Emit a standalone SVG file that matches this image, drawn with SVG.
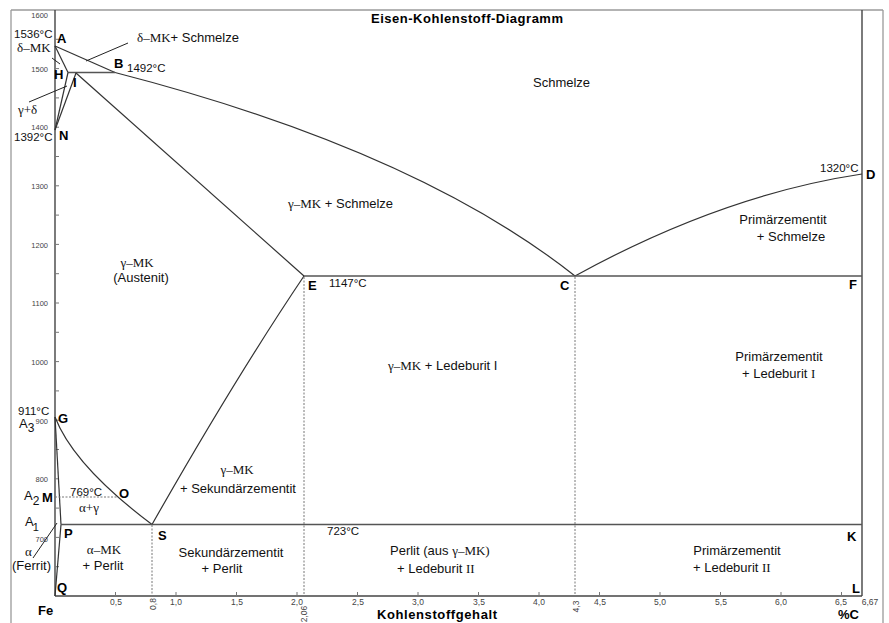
<svg xmlns="http://www.w3.org/2000/svg" width="889" height="623" viewBox="0 0 889 623">
<style>
.frame{stroke:#9a9a9a;stroke-width:1.3;fill:none}
.axis{stroke:#444;stroke-width:1.4;fill:none}
.tick{stroke:#777;stroke-width:1}
.ph{stroke:#333;stroke-width:1.2;fill:none}
.iso{stroke:#555;stroke-width:1.7;fill:none}
.dash{stroke:#777;stroke-width:1;stroke-dasharray:2 1.5;fill:none}
.ptr{stroke:#222;stroke-width:1}
.t{font-family:"Liberation Sans",Arial,sans-serif;font-size:13px;fill:#111}
.s{font-family:"Liberation Serif","Times New Roman",serif;font-size:13px;fill:#111}
.tp{font-family:"Liberation Sans",Arial,sans-serif;font-size:11.5px;fill:#111}
.b{font-family:"Liberation Sans",Arial,sans-serif;font-size:13px;font-weight:bold;fill:#000}
.yl{font-family:"Liberation Sans",Arial,sans-serif;font-size:7.5px;fill:#444;text-anchor:end}
.xl{font-family:"Liberation Sans",Arial,sans-serif;font-size:8.5px;fill:#444;text-anchor:middle}
.a{font-family:"Liberation Sans",Arial,sans-serif;font-size:13px;fill:#111}
.m{text-anchor:middle}
</style>
<rect width="889" height="623" fill="#fff"/>
<g id="frame">
<line class="frame" x1="11" y1="10" x2="883" y2="10"/>
<line class="frame" x1="11" y1="10" x2="11" y2="623"/>
<line class="frame" x1="883" y1="10" x2="883" y2="623"/>
<line class="axis" x1="55" y1="10" x2="55" y2="596"/>
<line class="axis" x1="55" y1="596" x2="862" y2="596"/>
<line class="axis" x1="862" y1="10" x2="862" y2="596"/>
</g>
<g id="ticks">
<path class="tick" d="M55 39.3h4M55 68.6h4M55 97.9h4M55 127.2h4M55 156.5h4M55 185.8h4M55 215.1h4M55 244.4h4M55 273.7h4M55 303h4M55 332.3h4M55 361.6h4M55 390.9h4M55 420.2h4M55 449.5h4M55 478.8h4M55 508.1h4M55 537.4h4M55 566.7h4"/>
<path class="tick" d="M115.5 596v-4M176 596v-4M236.5 596v-4M297 596v-4M357.5 596v-4M418 596v-4M478.5 596v-4M539 596v-4M599.5 596v-4M660 596v-4M720.5 596v-4M781 596v-4M841.5 596v-4"/>
<text class="yl" x="48" y="18">1600</text>
<text class="yl" x="48" y="72">1500</text>
<text class="yl" x="48" y="130">1400</text>
<text class="yl" x="48" y="189">1300</text>
<text class="yl" x="48" y="248">1200</text>
<text class="yl" x="48" y="306">1100</text>
<text class="yl" x="48" y="365">1000</text>
<text class="yl" x="48" y="424">900</text>
<text class="yl" x="48" y="482">800</text>
<text class="yl" x="48" y="542">700</text>
<text class="xl" x="116" y="605">0,5</text>
<text class="xl" x="176" y="605">1,0</text>
<text class="xl" x="237" y="605">1,5</text>
<text class="xl" x="297" y="605">2,0</text>
<text class="xl" x="358" y="605">2,5</text>
<text class="xl" x="418" y="605">3,0</text>
<text class="xl" x="479" y="605">3,5</text>
<text class="xl" x="539" y="605">4,0</text>
<text class="xl" x="600" y="605">4,5</text>
<text class="xl" x="660" y="605">5,0</text>
<text class="xl" x="721" y="605">5,5</text>
<text class="xl" x="781" y="605">6,0</text>
<text class="xl" x="841" y="605">6,5</text>
<text class="xl" x="870" y="605">6,67</text>
<text class="xl" transform="translate(156,604) rotate(-90)">0,8</text>
<text class="xl" transform="translate(307,614) rotate(-90)">2,06</text>
<text class="xl" transform="translate(579,606.5) rotate(-90)">4,3</text>
</g>
<g id="connectors">
<line class="ph" x1="55" y1="46" x2="115" y2="72.5"/>
<path class="ph" d="M115 72.5 Q416 150 575 276"/>
<path class="ph" d="M575 276 Q722 195 862 174"/>
<line class="ph" x1="55" y1="46" x2="68" y2="72.5"/>
<line class="iso" x1="68" y1="72.5" x2="115" y2="72.5"/>
<line class="ph" x1="76" y1="73" x2="304" y2="276"/>
<line class="ph" x1="68" y1="72.5" x2="55" y2="130"/>
<line class="ph" x1="76" y1="73" x2="55" y2="130"/>
<line class="iso" x1="304" y1="276" x2="862" y2="276"/>
<path class="ph" d="M152 524.5 Q234 380 304 276"/>
<path class="ph" d="M55 417 Q74 466 152 524.5"/>
<line class="ph" x1="55" y1="417" x2="61" y2="524.5"/>
<line class="ph" x1="61" y1="524.5" x2="55" y2="596"/>
<line class="iso" x1="61" y1="524.5" x2="862" y2="524.5"/>
<line class="dash" x1="55" y1="497" x2="118" y2="497"/>
<line class="dash" x1="152" y1="525" x2="152" y2="596"/>
<line class="dash" x1="304" y1="277" x2="304" y2="596"/>
<line class="dash" x1="575" y1="277" x2="575" y2="596"/>
<line class="ptr" x1="128" y1="43" x2="86" y2="61"/>
<line class="ptr" x1="52" y1="58" x2="60" y2="64"/>
<line class="ptr" x1="29" y1="102" x2="67" y2="86"/>
<line class="ptr" x1="33" y1="558" x2="57" y2="523"/>
</g>
<g id="title">
<text class="b" x="467" y="23" text-anchor="middle" textLength="192">Eisen-Kohlenstoff-Diagramm</text>
</g>
<g id="points">
<text class="b" x="57" y="43">A</text>
<text class="b" x="114" y="68">B</text>
<text class="b" x="54" y="79">H</text>
<text class="b" x="73" y="87">I</text>
<text class="b" x="59" y="140">N</text>
<text class="b" x="866" y="179">D</text>
<text class="b" x="308" y="290">E</text>
<text class="b" x="560" y="290">C</text>
<text class="b" x="849" y="289">F</text>
<text class="b" x="58" y="423">G</text>
<text class="b" x="42" y="502">M</text>
<text class="b" x="119" y="498">O</text>
<text class="b" x="64" y="538">P</text>
<text class="b" x="158" y="540">S</text>
<text class="b" x="847" y="541">K</text>
<text class="b" x="57" y="592">Q</text>
<text class="b" x="852" y="593">L</text>
</g>
<g id="temps">
<text class="tp" x="14" y="38">1536°C</text>
<text class="tp" x="127" y="72">1492°C</text>
<text class="tp" x="14" y="141">1392°C</text>
<text class="tp" x="820" y="172">1320°C</text>
<text class="tp" x="329" y="287">1147°C</text>
<text class="tp" x="18" y="415">911°C</text>
<text class="tp" x="70" y="496">769°C</text>
<text class="tp" x="327" y="535">723°C</text>
</g>
<g id="labels">
<text class="s" x="17" y="52" font-size="12">δ–MK</text>
<text x="137" y="42"><tspan class="s">δ–MK</tspan><tspan class="t">+ Schmelze</tspan></text>
<text class="s" x="18" y="114">γ+δ</text>
<text class="t" x="533" y="87">Schmelze</text>
<text x="288" y="208"><tspan class="s">γ–MK</tspan><tspan class="t"> + Schmelze</tspan></text>
<text class="t m" x="783" y="224">Primärzementit</text>
<text class="t m" x="791" y="241">+ Schmelze</text>
<text class="s m" x="137" y="267">γ–MK</text>
<text class="t m" x="141" y="282">(Austenit)</text>
<text x="388" y="370"><tspan class="s">γ–MK</tspan><tspan class="t"> + Ledeburit I</tspan></text>
<text class="t m" x="779" y="361">Primärzementit</text>
<text x="742" y="378"><tspan class="t">+ Ledeburit </tspan><tspan class="s">I</tspan></text>
<text class="s m" x="237" y="474">γ–MK</text>
<text class="t m" x="238" y="493">+ Sekundärzementit</text>
<text class="s m" x="89" y="512">α+γ</text>
<text class="s m" x="104" y="554">α–MK</text>
<text class="t m" x="103" y="570">+ Perlit</text>
<text class="t m" x="231" y="557">Sekundärzementit</text>
<text class="t m" x="222" y="573">+ Perlit</text>
<text x="390" y="555"><tspan class="t">Perlit (aus </tspan><tspan class="s">γ–MK)</tspan></text>
<text x="397" y="573"><tspan class="t">+ Ledeburit </tspan><tspan class="s">II</tspan></text>
<text class="t m" x="737" y="555">Primärzementit</text>
<text x="693" y="572"><tspan class="t">+ Ledeburit </tspan><tspan class="s">II</tspan></text>
<text class="s" x="25" y="556">α</text>
<text class="t" x="12" y="570">(Ferrit)</text>
<text class="a" x="19" y="428">A<tspan font-size="12" dy="4">3</tspan></text>
<text class="a" x="24" y="500">A<tspan font-size="12" dy="5">2</tspan></text>
<text class="a" x="25" y="526">A<tspan font-size="11" dy="5" dx="-1">1</tspan></text>
</g>
<g id="axis-titles">
<text class="b" x="38" y="615" font-size="16">Fe</text>
<text class="b" x="377" y="619" font-size="14" textLength="120">Kohlenstoffgehalt</text>
<text class="b" x="838" y="619" font-size="15">%C</text>
</g>
</svg>
